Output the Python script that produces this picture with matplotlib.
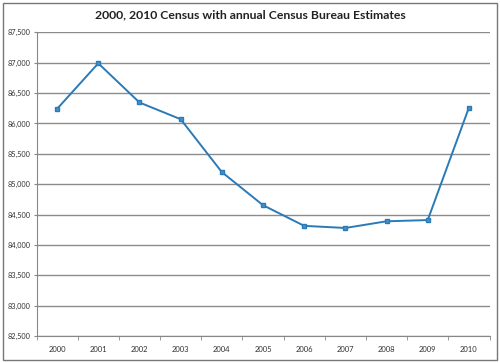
import matplotlib.pyplot as plt
from matplotlib.patches import Rectangle

years = ['2000', '2001', '2002', '2003', '2004', '2005',
         '2006', '2007', '2008', '2009', '2010']
population = [86240, 86990, 86345, 86070, 85200, 84655,
              84315, 84280, 84390, 84410, 86260]
yticks = [82500, 83000, 83500, 84000, 84500, 85000,
          85500, 86000, 86500, 87000, 87500]

plt.rcParams['font.family'] = ['Lato', 'DejaVu Sans']

fig = plt.figure(figsize=(5, 3.63), dpi=100)
ax = fig.add_axes([0.073, 0.074, 0.906, 0.837])

x = list(range(len(years)))
ax.plot(x, population, color='#2a7ab8', linewidth=1.4,
        marker='s', markersize=3.5, markerfacecolor='#4a90c8',
        markeredgecolor='#2a7ab8')

ax.set_xlim(-0.5, len(years) - 0.5)
ax.set_ylim(82500, 87500)
ax.set_yticks(yticks)
ax.set_yticklabels([f'{v:,}' for v in yticks], fontsize=5.3, color='#333333')
ax.set_xticks(x)
ax.set_xticklabels(years, fontsize=5.5, color='#333333')
ax.set_xticks([i - 0.5 for i in range(len(years) + 1)], minor=True)
ax.tick_params(axis='x', which='major', length=0, pad=7)
ax.tick_params(axis='x', which='minor', length=3, color='#888888', direction='out')
ax.tick_params(axis='y', length=2, color='#888888', pad=2.5)
ax.grid(axis='y', color='#8c8c8c', linewidth=1.0)
ax.set_axisbelow(True)
for side in ['top', 'right']:
    ax.spines[side].set_visible(False)
ax.spines['left'].set_color('#888888')
ax.spines['bottom'].set_color('#888888')

fig.text(0.5, 0.958, '2000, 2010 Census with annual Census Bureau Estimates',
         ha='center', va='center', fontsize=8.8, fontweight='bold', color='#222222')

fig.patches.append(Rectangle((0.006, 0.008), 0.988, 0.984, transform=fig.transFigure,
                             fill=False, edgecolor='#777777', linewidth=1.0))

fig.savefig('out.png', dpi=100)
